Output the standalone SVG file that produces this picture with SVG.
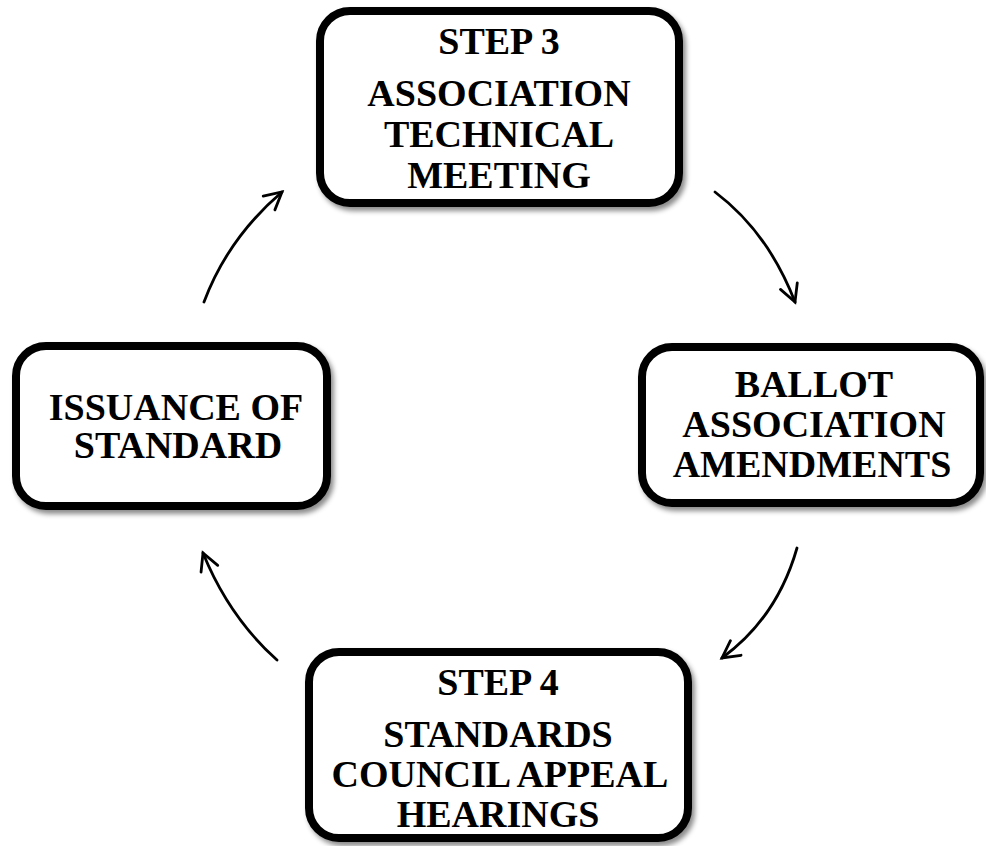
<svg xmlns="http://www.w3.org/2000/svg" width="986" height="846" viewBox="0 0 986 846">
<defs>
<filter id="sh" x="-10%" y="-10%" width="125%" height="125%">
<feDropShadow dx="3" dy="4" stdDeviation="2.5" flood-color="#000" flood-opacity="0.45"/>
</filter>
<marker id="ah" viewBox="0 0 24 24" refX="20" refY="12" markerWidth="24" markerHeight="24" markerUnits="userSpaceOnUse" orient="auto">
<path d="M3,3 L20,12 L3,21" fill="none" stroke="#000" stroke-width="2.8" stroke-linecap="round" stroke-linejoin="miter"/>
</marker>
</defs>
<style>
.box{fill:#fff;stroke:#000;stroke-width:8;filter:url(#sh)}
.t{font-family:"Liberation Serif","Times New Roman",serif;font-weight:bold;font-size:38px;text-anchor:middle;fill:#000}
.c{fill:none;stroke:#000;stroke-width:2.8;stroke-linecap:round;marker-end:url(#ah)}
</style>
<rect width="986" height="846" fill="#fff"/>
<g id="connectors">
<path class="c" d="M715,192 Q768,232 795,302"/>
<path class="c" d="M797,548 Q777,618 722,658"/>
<path class="c" d="M277,660 Q229,617 203,553"/>
<path class="c" d="M204,302 Q228,238 282,192"/>
</g>
<g id="step3">
<rect class="box" x="320" y="11" width="359" height="192" rx="30"/>
<text class="t" x="499" y="54">STEP 3</text>
<text class="t" x="499" y="106">ASSOCIATION</text>
<text class="t" x="499" y="147">TECHNICAL</text>
<text class="t" x="499" y="188">MEETING</text>
</g>
<g id="ballot">
<rect class="box" x="642" y="347" width="338" height="156" rx="30"/>
<text class="t" x="814" y="397">BALLOT</text>
<text class="t" x="814" y="437">ASSOCIATION</text>
<text class="t" x="812" y="477">AMENDMENTS</text>
</g>
<g id="step4">
<rect class="box" x="309" y="652" width="379" height="186" rx="30"/>
<text class="t" x="498" y="695">STEP 4</text>
<text class="t" x="498" y="747">STANDARDS</text>
<text class="t" x="500" y="787">COUNCIL APPEAL</text>
<text class="t" x="498" y="827">HEARINGS</text>
</g>
<g id="issuance">
<rect class="box" x="16" y="346" width="311" height="160" rx="30"/>
<text class="t" x="176" y="420">ISSUANCE OF</text>
<text class="t" x="178" y="458">STANDARD</text>
</g>
</svg>
